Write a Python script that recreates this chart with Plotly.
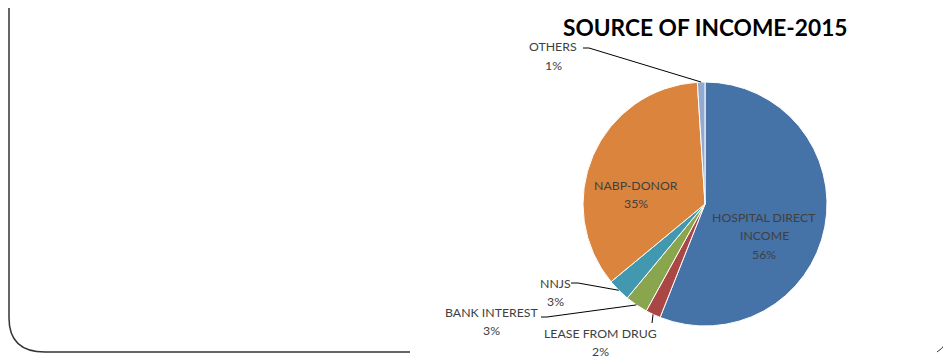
import math
import plotly.graph_objects as go

# ---- data ----
labels = ["HOSPITAL DIRECT INCOME", "LEASE FROM DRUG", "BANK INTEREST", "NNJS", "NABP-DONOR", "OTHERS"]
label_lines = [["HOSPITAL DIRECT", "INCOME"], ["LEASE FROM DRUG"], ["BANK INTEREST"], ["NNJS"], ["NABP-DONOR"], ["OTHERS"]]
values = [56, 2, 3, 3, 35, 1]
colors = ["#4572A7", "#AA4643", "#89A54E", "#4198AF", "#DB843D", "#93A9CF"]
title = "SOURCE OF INCOME-2015"

# page body has an 8px margin, so the figure is placed 8px in from the top-left
OFF = 8
W, H = 951 - OFF, 356 - OFF
CX, CY, R = 705, 204, 122

def px(x):
    return (x - OFF) / W

def py(y):
    return 1 - (y - OFF) / H

fig = go.Figure(go.Pie(
    labels=labels, values=values, sort=False, direction="clockwise", rotation=0,
    marker=dict(colors=colors, line=dict(color="white", width=1)),
    textinfo="none", hoverinfo="label+percent", showlegend=False,
    domain=dict(x=[px(CX - R), px(CX + R)], y=[py(CY + R), py(CY - R)]),
))

total = sum(values)
pct = [round(100 * v / total) for v in values]
cum = 0
anchors = []
for v in values:
    mid = (cum + v / 2) / total * 2 * math.pi
    anchors.append((CX + R * math.sin(mid), CY - R * math.cos(mid)))
    cum += v

# label first-line positions (pixel centres) and leader-line starts
label_pos = [(764, 217), (600, 333), (492, 312), (555, 283), (636, 185), (553, 47)]
LINE = 18.5
leader_start = [None, (652, 323), (541, 317), (571, 283), None, (583, 48)]
leader_knee = [None, None, (547, 317), (578, 283), None, (589, 48)]

txt_color = "#404040"
annotations = [dict(text="<b>" + title + "</b>", x=px(CX), y=py(27), xref="paper", yref="paper",
                    showarrow=False, xanchor="center", yanchor="middle",
                    font=dict(family="Lato", size=22.7, color="#000000"))]
shapes = []
for i in range(len(values)):
    lx, ly = label_pos[i]
    lines = label_lines[i] + [f"{pct[i]}%"]
    for j, t in enumerate(lines):
        annotations.append(dict(text=t, x=px(lx), y=py(ly + j * LINE),
                                xref="paper", yref="paper", showarrow=False,
                                xanchor="center", yanchor="middle",
                                font=dict(family="Lato", size=12.3, color=txt_color)))
    if leader_start[i] is not None:
        sx, sy = leader_start[i]
        ax, ay = anchors[i]
        path = f"M {px(sx)},{py(sy)}"
        if leader_knee[i] is not None:
            kx, ky = leader_knee[i]
            path += f" L {px(kx)},{py(ky)}"
        path += f" L {px(ax)},{py(ay)}"
        shapes.append(dict(type="path", path=path, xref="paper", yref="paper",
                           line=dict(color="#000000", width=1)))

# slide frame
frame = (f"M {px(9)},{py(OFF)} L {px(9)},{py(318)} Q {px(9)},{py(352)} {px(45)},{py(352)} "
         f"L {px(410)},{py(352)}")
shapes.append(dict(type="path", path=frame, xref="paper", yref="paper",
                   line=dict(color="#333333", width=1.5)))
corner = f"M {px(937)},{py(352)} Q {px(947)},{py(346)} {px(951)},{py(331)}"
shapes.append(dict(type="path", path=corner, xref="paper", yref="paper",
                   line=dict(color="#333333", width=1)))

fig.update_layout(width=W, height=H, margin=dict(l=0, r=0, t=0, b=0),
                  paper_bgcolor="white", plot_bgcolor="white",
                  annotations=annotations, shapes=shapes)
fig.write_html("out.html")
